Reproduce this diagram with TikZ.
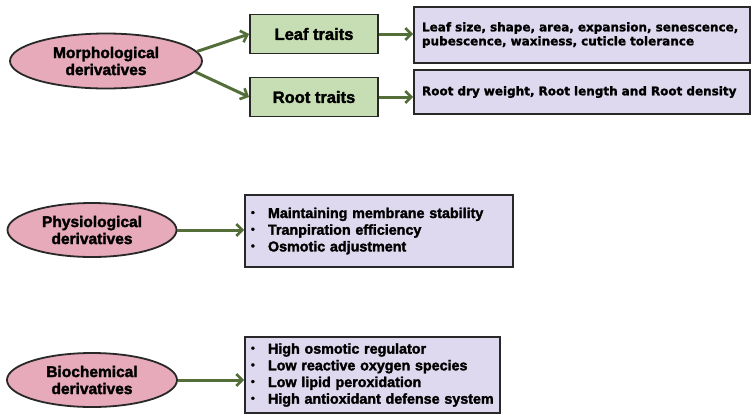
\documentclass[tikz,border=0pt]{standalone}
\usepackage{fontspec}
\setmainfont{Liberation Sans}[BoldFeatures={FakeBold=2}]
\newfontfamily\widefont{DejaVu Sans}[BoldFeatures={FakeBold=1.5}]
\usepackage{xcolor}
\usetikzlibrary{arrows.meta,shapes.geometric}

\definecolor{pinkfill}{RGB}{230,170,186}
\definecolor{greenfill}{RGB}{199,222,180}
\definecolor{lavfill}{RGB}{222,217,238}
\definecolor{arrowgreen}{RGB}{84,110,58}
\definecolor{edgegray}{RGB}{40,40,40}

\newcommand{\bul}{\makebox[17pt][l]{\raisebox{0.25ex}{\scalebox{0.75}{\textbullet}}}}

\begin{document}
\begin{tikzpicture}[x=1pt, y=-1pt,
    oval/.style={ellipse, draw=edgegray, line width=1.8pt, fill=pinkfill, inner sep=0pt,
        align=center, font=\fontsize{15.5}{17}\selectfont\bfseries},
    trait/.style={rectangle, draw=edgegray, line width=1.8pt, fill=greenfill, inner sep=0pt,
        minimum width=128, minimum height=39, font=\fontsize{16.5}{18}\selectfont\bfseries},
    detail/.style={rectangle, draw=edgegray, line width=1.8pt, fill=lavfill, inner sep=0pt,
        align=left},
    arr/.style={-{Straight Barb[length=6pt,width=12pt,line width=2.6pt]}, draw=arrowgreen, line width=3pt}]
    \useasboundingbox (0,0) rectangle (754,416);

    % Derivati morfologici
    \node[oval, minimum width=192, minimum height=55] (morph) at (106,61) {Morphological\\derivatives};
    \node[trait] (leaf) at (314,34) {Leaf traits};
    \node[trait] (root) at (314,97) {Root traits};
    \node[detail, minimum width=336, minimum height=56, text width=320,
        font=\widefont\fontsize{12}{14}\selectfont\bfseries] (leafd) at (582,35)
        {Leaf size, shape, area, expansion, senescence,\\pubescence, waxiness, cuticle tolerance};
    \node[detail, minimum width=336, minimum height=44, text width=320,
        font=\widefont\fontsize{12}{14}\selectfont\bfseries] (rootd) at (582,92)
        {Root dry weight, Root length and Root density};

    \draw[arr] (morph.6) -- (leaf.west);
    \draw[arr] (morph.-7) -- (root.west);
    \draw[arr] (leaf.east) -- (leafd.west |- leaf.east);
    \draw[arr] (root.east) -- (rootd.west |- root.east);

    % Derivati fisiologici
    \node[oval, minimum width=169, minimum height=54] (physio) at (92,230) {Physiological\\derivatives};
    \node[detail, minimum width=268, minimum height=72, text width=256,
        font=\fontsize{14.3}{16.7}\selectfont\bfseries] (physiod) at (379,231)
        {\bul Maintaining membrane stability\\\bul Tranpiration efficiency\\\bul Osmotic adjustment};
    \draw[arr] (physio.east) -- (physiod.west |- physio.east);

    % Derivati biochimici
    \node[oval, minimum width=170, minimum height=54] (bio) at (92,380) {Biochemical\\derivatives};
    \node[detail, minimum width=255, minimum height=76, text width=243,
        font=\fontsize{14.3}{16.7}\selectfont\bfseries] (biod) at (372.5,375)
        {\bul High osmotic regulator\\\bul Low reactive oxygen species\\\bul Low lipid peroxidation\\\bul High antioxidant defense system};
    \draw[arr] (bio.east) -- (biod.west |- bio.east);
\end{tikzpicture}
\end{document}
